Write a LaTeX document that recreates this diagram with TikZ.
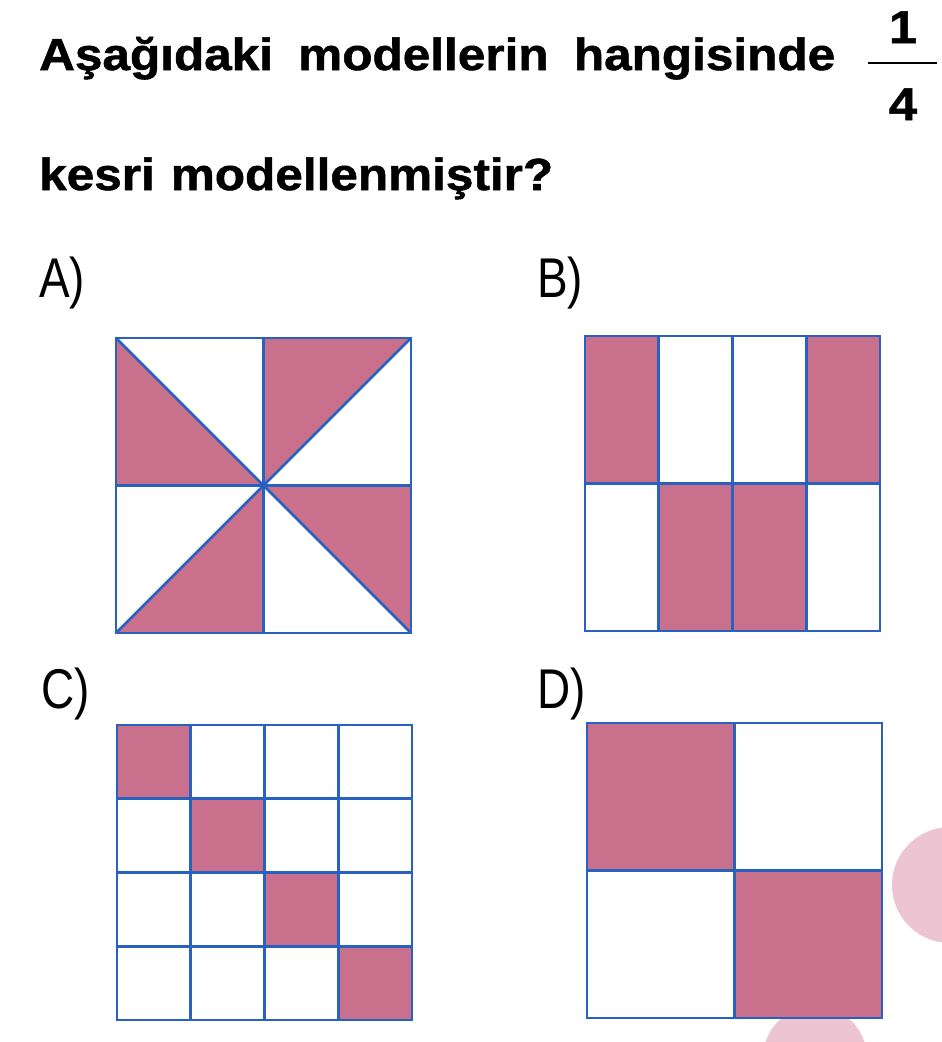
\documentclass[tikz,border=0pt]{standalone}
\usepackage{fontspec}
\setmainfont{Liberation Sans}
\newfontfamily\qfont[FakeStretch=1.1, BoldFeatures={FakeBold=1.2}]{Liberation Sans}
\newfontfamily\optfont[FakeStretch=0.82]{Liberation Sans}
\usetikzlibrary{backgrounds}
\definecolor{gridblue}{RGB}{40,98,190}
\definecolor{shadepink}{RGB}{200,112,140}
\definecolor{bleedpink}{RGB}{234,186,202}

\begin{document}
\begin{tikzpicture}[x=1pt, y=-1pt,
    question/.style={anchor=base west, inner sep=0pt,
                     font=\qfont\bfseries\fontsize{45}{50}\selectfont},
    digit/.style={anchor=base, inner sep=0pt,
                  font=\qfont\bfseries\fontsize{46}{50}\selectfont},
    optlab/.style={anchor=base west, inner sep=0pt,
                   font=\optfont\fontsize{56}{60}\selectfont},
    gridline/.style={draw=gridblue, line width=2.8pt},
    shaded/.style={fill=shadepink},
    bleed/.style={fill=bleedpink, opacity=0.85},
    unitsq/.style={x=295pt, y=-295pt},
]
\useasboundingbox (0,0) rectangle (942,1042);

%---------------------------------------------------------------
% Question text with the fraction 1/4
%---------------------------------------------------------------
\node[question] (line1) at (39,70)
     {\makebox[796pt][s]{Aşağıdaki modellerin hangisinde}};
\node[question] (line2) at (39,190)
     {\makebox[514pt][s]{kesri modellenmiştir?}};

\node[digit] (num) at (903,43) {1};
\node[digit] (den) at (903,120) {4};
\coordinate (barL) at (868,63);
\coordinate (barR) at (937,63);
\draw[line width=2.2pt] (barL) -- (barR);

%---------------------------------------------------------------
% Option labels
%---------------------------------------------------------------
\node[optlab] (labA) at (39,297) {A)};
\node[optlab] (labB) at (537,297) {B)};
\node[optlab] (labC) at (41,708) {C)};
\node[optlab] (labD) at (537,708) {D)};

% ink bleeding through from the back page
\begin{scope}[on background layer]
    \fill[bleed] (950,885) circle (58);
    \fill[bleed] (815,1058) circle (52);
\end{scope}

%---------------------------------------------------------------
% A) pinwheel: quarters cut by the diagonals
%---------------------------------------------------------------
\begin{scope}[shift={(116,338)}, unitsq]
    \fill[shaded] (0,0) -- (0,0.5) -- (0.5,0.5) -- cycle;
    \fill[shaded] (0.5,0) -- (1,0) -- (0.5,0.5) -- cycle;
    \fill[shaded] (0.5,0.5) -- (1,0.5) -- (1,1) -- cycle;
    \fill[shaded] (0.5,0.5) -- (0.5,1) -- (0,1) -- cycle;
    \draw[gridline] (0,0) rectangle (1,1);
    \draw[gridline] (0.5,0) -- (0.5,1) (0,0.5) -- (1,0.5)
                    (0,0) -- (1,1) (1,0) -- (0,1);
\end{scope}

%---------------------------------------------------------------
% B) 4 x 2 strips
%---------------------------------------------------------------
\begin{scope}[shift={(585,336)}, unitsq]
    \foreach \c/\r in {0/0, 3/0, 1/1, 2/1} {
        \fill[shaded] (\c*0.25,\r*0.5) rectangle ++(0.25,0.5);
    }
    \draw[gridline] (0,0) rectangle (1,1);
    \foreach \c in {1,2,3} {
        \draw[gridline] (\c*0.25,0) -- (\c*0.25,1);
    }
    \draw[gridline] (0,0.5) -- (1,0.5);
\end{scope}

%---------------------------------------------------------------
% C) 4 x 4 grid, diagonal shaded
%---------------------------------------------------------------
\begin{scope}[shift={(117,725)}, unitsq]
    \foreach \k in {0,1,2,3} {
        \fill[shaded] (\k*0.25,\k*0.25) rectangle ++(0.25,0.25);
    }
    \draw[gridline] (0,0) rectangle (1,1);
    \foreach \k in {1,2,3} {
        \draw[gridline] (\k*0.25,0) -- (\k*0.25,1);
        \draw[gridline] (0,\k*0.25) -- (1,\k*0.25);
    }
\end{scope}

%---------------------------------------------------------------
% D) 2 x 2 grid
%---------------------------------------------------------------
\begin{scope}[shift={(587,723)}, unitsq]
    \fill[shaded] (0,0) rectangle (0.5,0.5);
    \fill[shaded] (0.5,0.5) rectangle (1,1);
    \draw[gridline] (0,0) rectangle (1,1);
    \draw[gridline] (0.5,0) -- (0.5,1) (0,0.5) -- (1,0.5);
\end{scope}

\end{tikzpicture}
\end{document}
